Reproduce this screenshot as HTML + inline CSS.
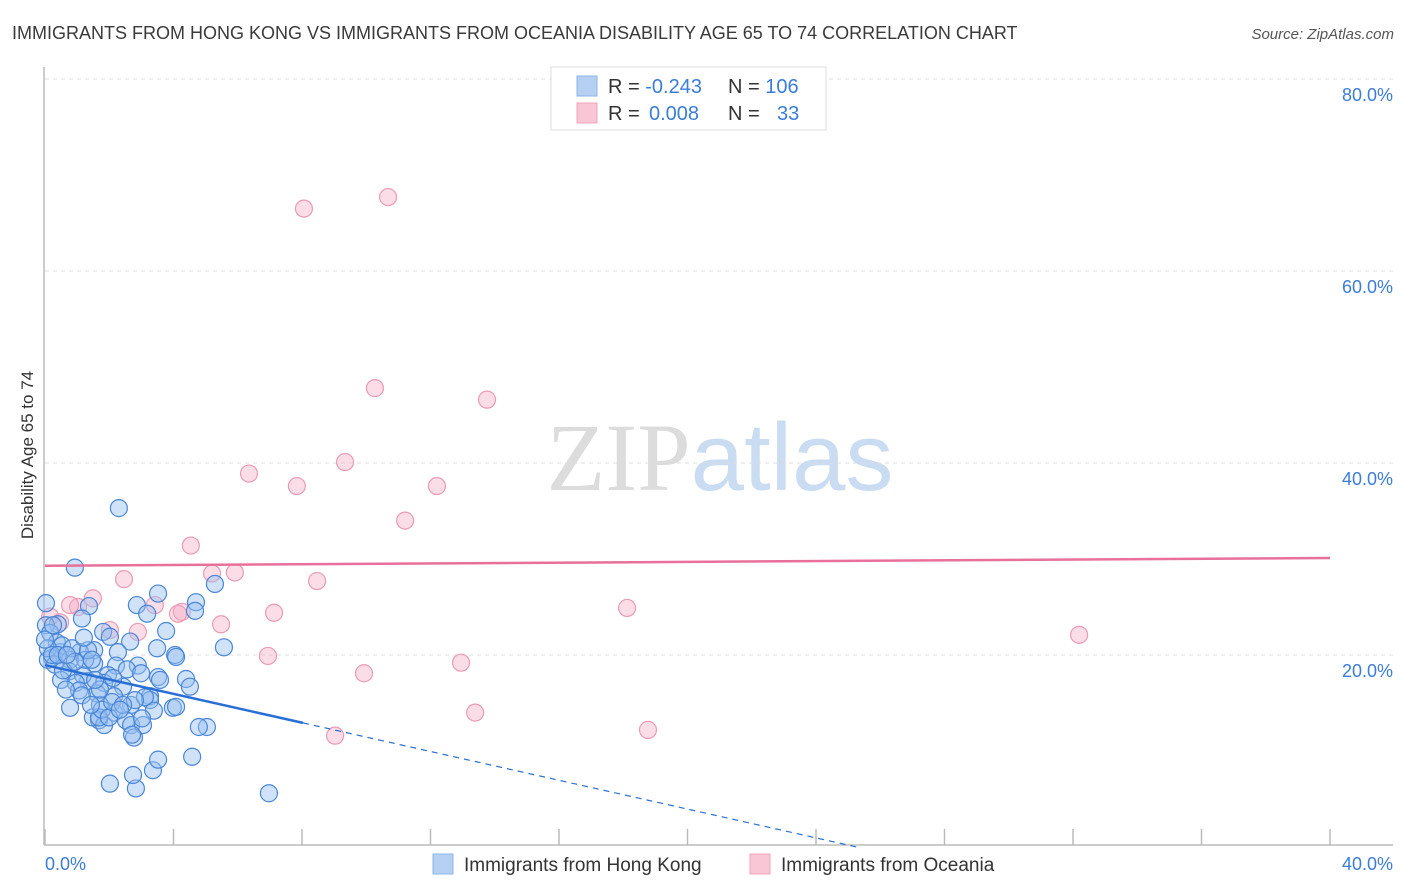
<!DOCTYPE html>
<html><head><meta charset="utf-8"><style>
body{margin:0;background:#fff;font-family:"Liberation Sans",sans-serif}
svg{display:block}
</style></head><body>
<svg id="chart" width="1406" height="892" xmlns="http://www.w3.org/2000/svg">
<text x="12" y="39" font-size="18" fill="#3a3a3a">IMMIGRANTS FROM HONG KONG VS IMMIGRANTS FROM OCEANIA DISABILITY AGE 65 TO 74 CORRELATION CHART</text>
<text x="1394" y="39" font-size="15" fill="#555" font-style="italic" text-anchor="end">Source: ZipAtlas.com</text>
<text x="720" y="490" font-size="96" text-anchor="middle"><tspan fill="#dcdcdc" font-family="Liberation Serif">ZIP</tspan><tspan fill="#c9dcf2" font-family="Liberation Sans">atlas</tspan></text>
<g id="grid"></g>
<line x1="44" y1="67" x2="44" y2="845" stroke="#bbb" stroke-width="1.5"/>
<line x1="44" y1="845" x2="1393" y2="845" stroke="#bbb" stroke-width="1.5"/>
<g id="xticks"></g>
<g id="ylabels"></g>
<text x="45" y="870" font-size="18" fill="#3b7dd8">0.0%</text>
<text x="1393" y="870" font-size="18" fill="#3b7dd8" text-anchor="end">40.0%</text>
<text transform="translate(33,455) rotate(-90)" font-size="17" fill="#333" text-anchor="middle">Disability Age 65 to 74</text>
<g id="pinkpts"></g>
<g id="bluepts"></g>
<g id="trends"></g>
<g>
<rect x="551" y="67" width="275" height="63" fill="#fff" stroke="#ddd"/>
<rect x="577" y="76" width="20" height="20" fill="#b6d0f3" stroke="#8fb4e8"/>
<rect x="577" y="103" width="20" height="20" fill="#f8c6d5" stroke="#f0a4bb"/>
<text x="608" y="93" font-size="20" fill="#333">R = <tspan fill="#3b7dd8">-0.243</tspan><tspan x="728">N = </tspan><tspan fill="#3b7dd8">106</tspan></text>
<text x="608" y="120" font-size="20" fill="#333">R = <tspan fill="#3b7dd8" x="649">0.008</tspan><tspan x="728">N = </tspan><tspan fill="#3b7dd8" x="777">33</tspan></text>
</g>
<g>
<rect x="433" y="854" width="20" height="20" fill="#b6d0f3" stroke="#8fb4e8"/>
<text x="464" y="871" font-size="19" fill="#333">Immigrants from Hong Kong</text>
<rect x="750" y="854" width="20" height="20" fill="#f8c6d5" stroke="#f0a4bb"/>
<text x="781" y="871" font-size="19" fill="#333">Immigrants from Oceania</text>
</g>
</svg>
<script>
const blueX=[2.30,0.93,5.29,3.52,4.70,2.86,1.37,4.67,3.18,1.15,3.77,1.81,0.40,0.03,0.03,0.16,2.65,2.27,2.02,3.49,5.57,4.05,4.08,1.53,1.09,0.47,0.22,0.37,0.53,0.78,0.09,1.53,2.21,2.89,2.55,0.75,1.34,1.18,1.96,1.84,4.39,2.99,3.52,0.50,0.96,1.06,2.43,3.27,4.51,3.27,1.62,2.15,1.15,0.78,3.98,2.15,2.68,1.71,1.68,2.52,1.49,3.39,1.84,2.68,3.05,5.04,4.79,1.68,2.77,2.71,3.36,3.52,2.02,2.83,4.58,2.74,6.97,1.77,1.99,1.43,0.65,0.31,0.09,0.22,0.84,1.25,3.11,3.58,2.80,1.71,2.09,2.43,4.08,1.56,0.56,2.12,1.34,0.00,0.40,0.93,2.33,1.46,0.68,0.25,1.21,3.02];
const blueY=[35.3,29.1,27.4,26.4,25.5,25.2,25.1,24.6,24.3,23.8,22.5,22.4,23.2,25.4,23.1,22.3,21.4,20.3,21.9,20.7,20.8,20.0,19.8,20.5,20.3,20.3,19.7,21.3,21.0,19.5,19.5,19.1,18.9,18.9,18.5,18.3,17.3,17.9,17.9,17.1,17.5,18.1,17.7,17.4,17.1,16.3,16.7,15.7,16.7,15.3,16.0,15.7,15.8,14.5,14.5,14.0,14.8,14.8,13.2,13.2,13.5,14.2,12.7,12.7,12.7,12.5,12.5,13.5,11.4,11.7,8.0,9.1,6.6,6.1,9.4,7.5,5.6,14.3,13.5,14.8,16.4,19.0,20.7,20.0,20.7,19.5,15.6,17.4,15.3,16.4,15.1,14.8,14.6,17.4,18.4,17.6,20.5,21.6,20.0,19.3,14.3,19.5,20.0,23.1,21.8,13.4];
const pinkX=[8.06,10.68,10.27,13.76,9.34,6.35,7.84,12.20,11.21,4.54,2.46,5.20,5.91,8.47,1.49,1.03,3.42,4.26,4.14,7.13,18.12,5.48,2.02,2.89,32.19,6.94,12.95,9.93,13.39,18.77,9.03,0.16,0.47,0.78];
const pinkY=[66.5,67.7,47.8,46.6,40.1,38.9,37.6,37.6,34.0,31.4,27.9,28.5,28.6,27.7,25.9,25.0,25.2,24.5,24.3,24.4,24.9,23.2,22.6,22.4,22.1,19.9,19.2,18.1,14.0,12.2,11.6,24.0,23.4,25.2];
const yTicks=[20,40,60,80];
const yTickLabels=["20.0%","40.0%","60.0%","80.0%"];
const xTicks=[0,4,8,12,16,20,24,28,32,36,40];
const blueTrend=[18.95,-0.75];
const pinkTrend=[29.3,0.02];
const NS="http://www.w3.org/2000/svg";
const sx=v=>45+v*32.125, sy=v=>847-v*9.6;
function mk(tag,attrs,parent){const e=document.createElementNS(NS,tag);for(const k in attrs)e.setAttribute(k,attrs[k]);parent.appendChild(e);return e;}
const grid=document.getElementById('grid'),yl=document.getElementById('ylabels'),xt=document.getElementById('xticks');
yTicks.forEach((t,i)=>{
 const l=mk('line',{x1:45,x2:1393,y1:sy(t),y2:sy(t),stroke:'#ddd','stroke-dasharray':'4,4'},grid);
 
 
 const tx=mk('text',{x:1393,y:sy(t)+22,'font-size':18,fill:'#3b7dd8','text-anchor':'end'},yl);
 tx.textContent=yTickLabels[i];
 
 
});
xTicks.forEach(t=>{
 const l=mk('line',{x1:sx(t),x2:sx(t),y1:829,y2:845,stroke:'#bbb','stroke-width':1.5},xt);
 
 
});
const pp=document.getElementById('pinkpts');
pinkX.forEach((x,i)=>{
 const c=mk('circle',{cx:sx(x),cy:sy(pinkY[i]),r:8.5,fill:'rgba(244,170,195,0.4)',stroke:'#ec9ab5','stroke-width':1.2},pp);
 
 
});
const bp=document.getElementById('bluepts');
blueX.forEach((x,i)=>{
 const c=mk('circle',{cx:sx(x),cy:sy(blueY[i]),r:8.5,fill:'rgba(150,190,240,0.45)',stroke:'#4a86d8','stroke-width':1.2},bp);
 
 
});
const tr=document.getElementById('trends');
const b1=mk('line',{x1:sx(0),y1:sy(blueTrend[0]),x2:sx(8.03),y2:sy(blueTrend[0]+blueTrend[1]*8.03),stroke:'#2a6fd6','stroke-width':2.5},tr);


const xe=-blueTrend[0]/blueTrend[1];
const b2=mk('line',{x1:sx(8.03),y1:sy(blueTrend[0]+blueTrend[1]*8.03),x2:sx(xe),y2:sy(0),stroke:'#2a6fd6','stroke-width':1.2,'stroke-dasharray':'6,5'},tr);


const p1=mk('line',{x1:sx(0),y1:sy(pinkTrend[0]),x2:sx(40),y2:sy(pinkTrend[0]+pinkTrend[1]*40),stroke:'#e8709a','stroke-width':2.5},tr);


</script>
</body></html>
